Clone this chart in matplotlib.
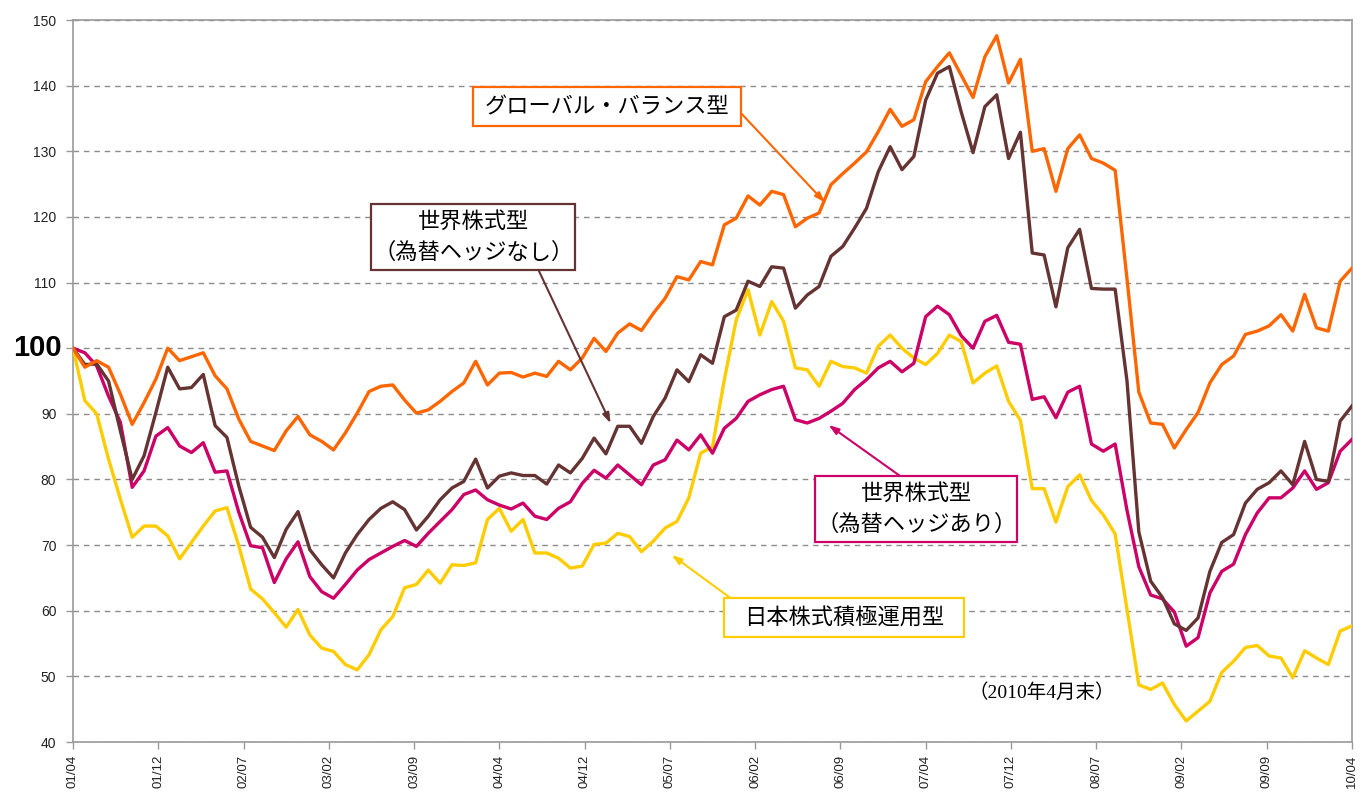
import matplotlib
matplotlib.use("Agg")
import matplotlib.pyplot as plt
from matplotlib.patches import Rectangle
from matplotlib.transforms import IdentityTransform
import numpy as np

plt.rcParams['font.family'] = ['Noto Sans CJK JP', 'DejaVu Sans']

# 2001/04 - 2010/04 monthly (index 100 = start)
xlabels = ['01/04', '01/12', '02/07', '03/02', '03/09', '04/04', '04/12', '05/07',
           '06/02', '06/09', '07/04', '07/12', '08/07', '09/02', '09/09', '10/04']

global_balance = [
    100, 97.1, 98.1, 97.1, 93, 88.4, 91.7, 95.3, 100, 98.1, 98.7, 99.3, 95.8, 93.8, 89.2, 85.8,
    85.1, 84.4, 87.4, 89.6, 86.8, 85.8, 84.5, 87.1, 90.1, 93.4, 94.2, 94.4, 92.1, 90.1, 90.6, 91.9,
    93.4, 94.7, 98, 94.4, 96.2, 96.3, 95.6, 96.2, 95.7, 98, 96.7, 98.5, 101.5, 99.5, 102.3, 103.7,
    102.7, 105.3, 107.6, 110.9, 110.4, 113.2, 112.7, 118.8, 119.8, 123.2, 121.8, 123.9, 123.4, 118.5,
    119.8, 120.6, 124.9, 126.6, 128.2, 129.9, 133, 136.4, 133.8, 134.8, 140.6, 142.9, 145, 141.6,
    138.2, 144.4, 147.6, 140.4, 144, 130, 130.4, 123.9, 130.4, 132.5, 128.9, 128.2, 127.1, 110.6,
    93.3, 88.6, 88.4, 84.8, 87.6, 90.2, 94.7, 97.5, 98.8, 102.1, 102.6, 103.4, 105.1, 102.6,
    108.2, 103.1, 102.6, 110.2, 112.2]

world_unhedged = [
    100, 97.5, 97.6, 95, 87.4, 80, 83.6, 90.2, 97.1, 93.8, 94, 96, 88.2, 86.4, 79, 72.7,
    71.2, 68.1, 72.4, 75.1, 69.3, 67, 65, 68.8, 71.6, 73.9, 75.6, 76.6, 75.4, 72.3, 74.4, 76.9,
    78.7, 79.7, 83.1, 78.7, 80.5, 81, 80.6, 80.6, 79.3, 82.2, 81, 83.2, 86.3, 83.9, 88.1, 88.1,
    85.5, 89.6, 92.4, 96.7, 94.9, 99, 97.7, 104.8, 105.8, 110.2, 109.4, 112.4, 112.2, 106.1,
    108.1, 109.4, 114, 115.5, 118.3, 121.3, 126.9, 130.7, 127.2, 129.2, 137.8, 141.9, 142.9, 136,
    129.8, 136.8, 138.6, 128.9, 132.9, 114.5, 114.2, 106.3, 115.3, 118.1, 109.1, 109, 109, 95,
    72, 64.5, 62, 58, 57, 58.9, 66, 70.4, 71.6, 76.4, 78.5, 79.5, 81.3, 79.2,
    85.8, 80, 79.7, 88.9, 91.2]

world_hedged = [
    100, 99.3, 97.3, 92.7, 88.7, 78.8, 81.3, 86.6, 87.9, 85.1, 84.1, 85.6, 81.1, 81.3, 75, 69.9,
    69.6, 64.3, 67.9, 70.5, 65.2, 62.9, 61.9, 64, 66.2, 67.8, 68.8, 69.8, 70.7, 69.8, 71.8, 73.6,
    75.4, 77.7, 78.4, 76.9, 76.1, 75.5, 76.4, 74.4, 73.9, 75.6, 76.6, 79.4, 81.4, 80.2, 82.2, 80.7,
    79.2, 82.2, 83, 86, 84.5, 86.8, 84, 87.8, 89.3, 91.9, 92.9, 93.7, 94.2, 89.1,
    88.6, 89.3, 90.4, 91.6, 93.7, 95.2, 97, 98, 96.4, 97.7, 104.8, 106.4, 105.1, 101.9,
    100, 104.1, 105, 100.9, 100.6, 92.2, 92.6, 89.4, 93.3, 94.2, 85.4, 84.3, 85.4, 75.3,
    66.7, 62.4, 61.8, 59.8, 54.6, 55.9, 62.7, 66, 67.1, 71.6, 74.9, 77.2, 77.2, 78.7,
    81.3, 78.5, 79.5, 84.3, 86.1]

japan_active = [
    100, 92, 90, 83.1, 77, 71.2, 72.9, 72.9, 71.4, 67.9, 70.4, 72.9, 75.2, 75.7, 69.9, 63.3,
    61.8, 59.7, 57.5, 60.2, 56.3, 54.3, 53.8, 51.8, 51, 53.3, 57.1, 59.1, 63.5, 64, 66.2, 64.2,
    67, 66.9, 67.3, 73.9, 75.6, 72.1, 73.9, 68.8, 68.8, 68, 66.5, 66.8, 70.1, 70.3, 71.8, 71.3,
    69, 70.6, 72.6, 73.6, 77.2, 84, 85, 95.2, 104.3, 108.9, 102, 107.1, 104.1, 97,
    96.7, 94.2, 98, 97.2, 97, 96.2, 100.3, 102, 100, 98.5, 97.5, 99.2, 102, 101,
    94.7, 96.2, 97.3, 91.9, 89, 78.6, 78.6, 73.5, 78.9, 80.7, 76.8, 74.6, 71.7, 60.2,
    48.7, 48, 49, 45.7, 43.2, 44.7, 46.2, 50.6, 52.3, 54.4, 54.7, 53.1, 52.8, 49.8,
    53.9, 52.8, 51.8, 56.9, 57.7]

c_orange = '#FF6600'
c_brown = '#663333'
c_magenta = '#CC0066'
c_yellow = '#FFCC00'

months = np.arange(len(global_balance))

fig = plt.figure(figsize=(13.7, 7.98), dpi=100)
ax = fig.add_axes([73/1370, 56/798, 1279/1370, 722/798])

ax.plot(months, japan_active, color=c_yellow, lw=2.4, zorder=3)
ax.plot(months, world_hedged, color=c_magenta, lw=2.4, zorder=4)
ax.plot(months, world_unhedged, color=c_brown, lw=2.4, zorder=5)
ax.plot(months, global_balance, color=c_orange, lw=2.4, zorder=6)

ax.set_xlim(0, len(months) - 1)
ax.set_ylim(40, 150)
yt = np.arange(40, 151, 10)
ax.set_yticks(yt)
# the 100 line gets its own big bold label below
ax.set_yticklabels(['' if v == 100 else str(v) for v in yt], fontsize=10, family='Liberation Sans')
ax.set_xticks(np.linspace(0, len(months) - 1, len(xlabels)))
ax.set_xticklabels(xlabels, rotation=90, fontsize=9.5, family='Liberation Sans')

ax.yaxis.grid(True, linestyle=(0, (4, 3.5)), color='#8c8c8c', lw=1)
ax.set_axisbelow(True)
for s in ax.spines.values():
    s.set_color('#999999')
    s.set_linewidth(1.2)
ax.tick_params(axis='both', colors='#999999', length=5, width=1, labelcolor='#222222', pad=4)
ax.tick_params(axis='y', pad=7)

ax.text(-11 / 1279, 100, '100', transform=ax.get_yaxis_transform(), ha='right', va='center',
        fontsize=21, fontweight='bold', family='Liberation Sans', color='black')

# callout labels: text, text centre, arrow tip, colour, arrow start on box, padding (px)
callouts = [
    ('グローバル・バランス型', (45.1, 136.8), (63.5, 122.2), c_orange, (1.0, 0.32), (12, 8)),
    ('世界株式型\n（為替ヘッジなし）', (33.8, 116.9), (45.4, 88.55), c_brown, (0.82, 0.0), (2, 6)),
    ('世界株式型\n（為替ヘッジあり）', (71.2, 75.5), (63.8, 88.3), c_magenta, (0.42, 1.0), (1, 6)),
    ('日本株式積極運用型', (65.1, 58.9), (50.55, 68.5), c_yellow, (0.03, 1.0), (20, 8)),
]

texts = []
for txt, pos, tip, col, rel, pad in callouts:
    t = ax.text(pos[0], pos[1], txt, fontsize=16, ha='center', va='center',
                linespacing=1.45, zorder=12)
    texts.append(t)

fig.canvas.draw()
renderer = fig.canvas.get_renderer()
for t, (txt, pos, tip, col, rel, pad) in zip(texts, callouts):
    bb = t.get_window_extent(renderer)
    x0, y0 = bb.x0 - pad[0], bb.y0 - pad[1]
    w, h = bb.width + 2 * pad[0], bb.height + 2 * pad[1]
    ax.add_patch(Rectangle((x0, y0), w, h, transform=IdentityTransform(),
                           fc='white', ec=col, lw=1.6, zorder=11))
    ax.annotate('', xy=tip, xycoords='data', xytext=(x0 + rel[0] * w, y0 + rel[1] * h),
                textcoords='figure pixels', zorder=10,
                arrowprops=dict(arrowstyle='-|>,head_length=0.6,head_width=0.2', color=col,
                                lw=1.5, shrinkA=0, shrinkB=0))

ax.text(81.8, 47.6, '（2010年4月末）', fontsize=14, ha='center', va='center', color='black',
        family=['Liberation Serif', 'Noto Sans CJK JP'])

fig.savefig('out.png', dpi=100)
